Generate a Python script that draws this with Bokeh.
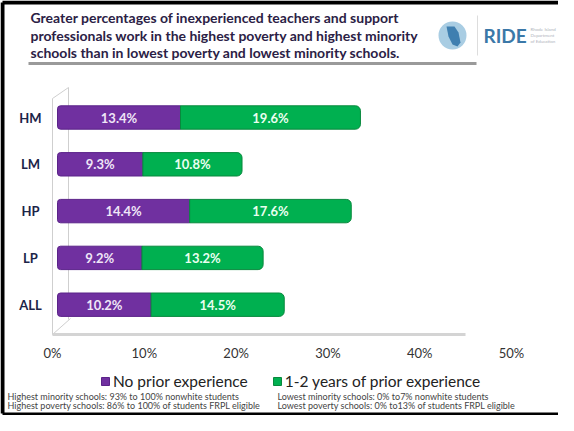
from bokeh.plotting import figure
from bokeh.models import Range1d, ColumnDataSource, Legend, LegendItem
from bokeh.core.properties import value
from bokeh.embed import file_html
from bokeh.resources import INLINE

# ---- data ----
categories = ["HM", "LM", "HP", "LP", "ALL"]
no_prior = [13.4, 9.3, 14.4, 9.2, 10.2]
one_two_years = [19.6, 10.8, 17.6, 13.2, 14.5]
series_names = ["No prior experience", "1-2 years of prior experience"]
tick_values = [0, 10, 20, 30, 40, 50]
tick_labels = ["0%", "10%", "20%", "30%", "40%", "50%"]
title_lines = [
    "Greater percentages of inexperienced teachers and support",
    "professionals work in the highest poverty and highest minority",
    "schools than in lowest poverty and lowest minority schools.",
]
footnotes_left = [
    "Highest minority schools: 93% to 100% nonwhite students",
    "Highest poverty schools: 86% to 100% of students FRPL eligible",
]
footnotes_right = [
    "Lowest minority schools: 0% to7% nonwhite students",
    "Lowest poverty schools: 0% to13% of students FRPL eligible",
]

# ---- layout constants ----
W, H = 558, 415
PX_PER_PCT = 9.18
X0 = 57
ROW0 = 117
ROW_STEP = 46.8
PURPLE = "#7030a0"
GREEN = "#00b050"
FONT = "Lato"

p = figure(width=W, height=H,
           x_range=Range1d((0 - X0) / PX_PER_PCT, (W - X0) / PX_PER_PCT),
           y_range=Range1d((H - ROW0) / ROW_STEP, (0 - ROW0) / ROW_STEP),
           x_axis_location=None, y_axis_location=None,
           output_backend="svg", toolbar_location=None, min_border=0)
p.outline_line_color = None
p.grid.visible = False
p.background_fill_color = "white"
p.border_fill_color = "white"
p.extra_x_ranges = {"px": Range1d(0, W)}
p.extra_y_ranges = {"px": Range1d(H, 0)}

def px_line(xs, ys, **kw):
    p.line(xs, ys, x_range_name="px", y_range_name="px", **kw)

# frame border
px_line([2, 2], [2, 413], line_color="black", line_width=4)
px_line([2, W], [2, 2], line_color="black", line_width=4)
px_line([2, W], [413.5, 413.5], line_color="black", line_width=3)

# 3D wall / floor
wall = "#cfcfcf"
px_line([52, 52], [98, 334], line_color=wall, line_width=1)
px_line([52, 68], [98, 87], line_color=wall, line_width=1)
px_line([68, 68], [87, 319], line_color=wall, line_width=1)
px_line([52, 70], [334, 318], line_color=wall, line_width=1)
px_line([52, 465], [334, 334], line_color="#d4d4d4", line_width=3)

# bars
ys = list(range(len(categories)))
totals = [a + b for a, b in zip(no_prior, one_two_years)]
src = ColumnDataSource(dict(
    cat=categories, y=ys, a=no_prior, b=one_two_years, total=totals,
    mid_a=[a / 2 for a in no_prior],
    mid_b=[a + b / 2 for a, b in zip(no_prior, one_two_years)],
    la=[f"{v:.1f}%" for v in no_prior],
    lb=[f"{v:.1f}%" for v in one_two_years],
))
r1 = p.hbar(y="y", left=0, right="a", height=0.5, fill_color=PURPLE,
            line_color="#5b2389", line_width=1, source=src,
            border_radius=(3, 0, 0, 3))
r2 = p.hbar(y="y", left="a", right="total", height=0.5, fill_color=GREEN,
            line_color="#08893d", line_width=1, source=src,
            border_radius=(0, 5, 5, 0))

p.text(x="mid_a", y="y", text="la", source=src, text_color="#efe6f7",
       text_font=value(FONT), text_font_style="bold", text_font_size="13px",
       text_align="center", text_baseline="middle")
p.text(x="mid_b", y="y", text="lb", source=src, text_color="#eafff0",
       text_font=value(FONT), text_font_style="bold", text_font_size="13px",
       text_align="center", text_baseline="middle")

# category labels
p.text(x=[(30 - X0) / PX_PER_PCT] * len(categories), y=ys, text=categories,
       text_color="#1c2448", text_font=value(FONT), text_font_style="bold",
       text_font_size="13px", text_align="center", text_baseline="middle")

# x tick labels
p.text(x=tick_values, y=[352] * len(tick_values), text=tick_labels,
       y_range_name="px", x_offset=-5, text_color="#333333",
       text_font=value(FONT), text_font_size="13px",
       text_align="center", text_baseline="middle")

# title
p.text(x=[30] * 3, y=[17, 35, 52], text=title_lines,
       x_range_name="px", y_range_name="px", text_color="#2b2145",
       text_font=value(FONT), text_font_style="bold", text_font_size="14px",
       text_align="left", text_baseline="middle")
px_line([28, 476], [63, 63], line_color="#9a9a9a", line_width=3)

# logo
p.scatter(x=[452], y=[35], size=28, marker="circle", fill_color="#a9cde3",
          line_color=None, x_range_name="px", y_range_name="px")
p.patch(x=[446, 454, 458, 460, 457, 452, 448], y=[26, 26, 32, 42, 46, 44, 36],
        fill_color="#3f7fb0", line_color=None, x_range_name="px", y_range_name="px")
px_line([477, 477], [15, 55], line_color="#dddddd", line_width=1)
p.text(x=[483], y=[35], text=["RIDE"], x_range_name="px", y_range_name="px",
       text_color="#3b78a8", text_font=value(FONT), text_font_style="bold",
       text_font_size="19px", text_align="left", text_baseline="middle")
p.text(x=[530] * 3, y=[29, 35, 41], text=["Rhode Island", "Department", "of Education"],
       x_range_name="px", y_range_name="px", text_color="#b0b4bc",
       text_font=value(FONT), text_font_size="4.5px",
       text_align="left", text_baseline="middle")

# legend
legend = Legend(items=[LegendItem(label=series_names[0], renderers=[r1]),
                       LegendItem(label=series_names[1], renderers=[r2])],
                orientation="horizontal", location=(100, 25),
                glyph_width=10, glyph_height=10, label_standoff=3, spacing=24,
                padding=0, margin=0, border_line_color=None,
                background_fill_alpha=0, label_text_font=FONT,
                label_text_font_size="15.5px", label_text_color="#222222")
p.add_layout(legend)

# footnotes
p.text(x=[7, 7], y=[396, 405], text=footnotes_left, x_range_name="px",
       y_range_name="px", text_color="#444444", text_font=value(FONT),
       text_font_size="9px", text_align="left", text_baseline="middle")
p.text(x=[277, 277], y=[396, 405], text=footnotes_right, x_range_name="px",
       y_range_name="px", text_color="#444444", text_font=value(FONT),
       text_font_size="9px", text_align="left", text_baseline="middle")

open("out.html", "w").write(file_html(p, INLINE))
